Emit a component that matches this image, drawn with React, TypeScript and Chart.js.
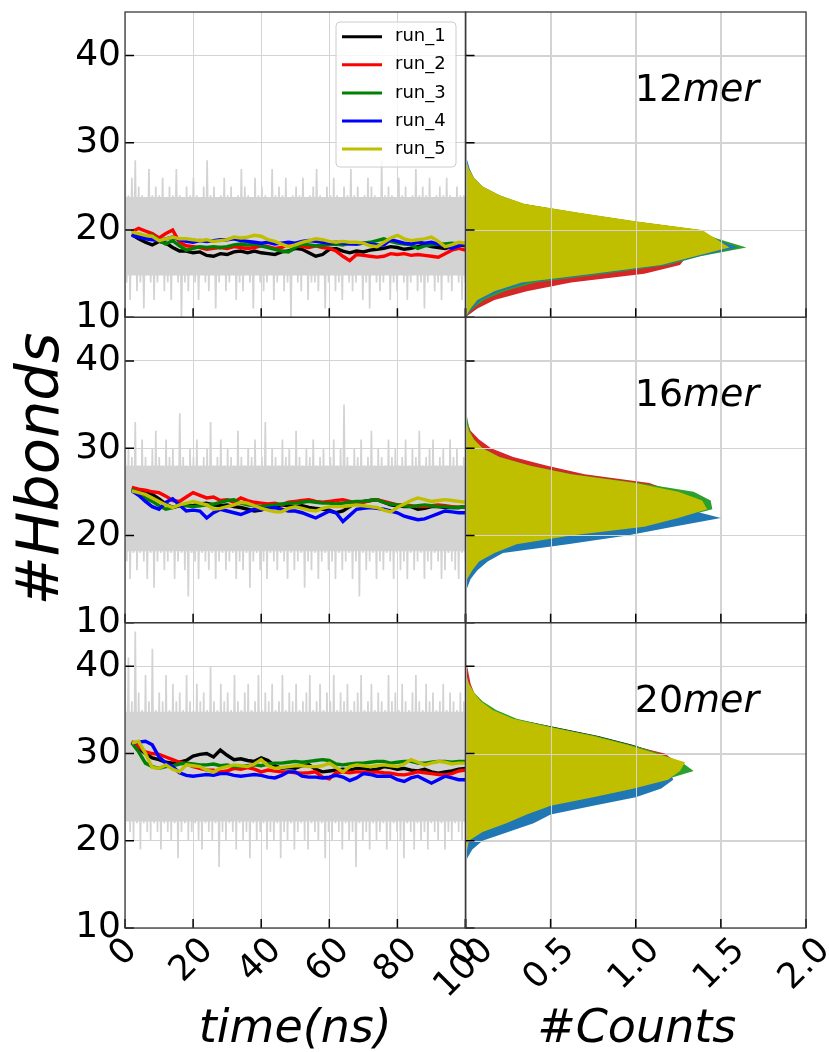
import React, { useEffect, useRef } from 'react';
import { Chart, registerables } from 'chart.js';

Chart.register(...registerables);

// ---------- labels / ticks ----------
const runLabels = ['run_1', 'run_2', 'run_3', 'run_4', 'run_5'];
const lineColors = ['#000000', '#ff0000', '#008000', '#0000ff', '#bfbf00'];
const histColors = ['#000000', '#d62728', '#2ca02c', '#1f77b4', '#bfbf00'];
const panelNames = ['12', '16', '20'];
const timeTicks = [0, 20, 40, 60, 80, 100];
const timeTickLabels = ['0', '20', '40', '60', '80', '100'];
const countTicks = [0, 0.5, 1.0, 1.5, 2.0];
const countTickLabels = ['0', '0.5', '1.0', '1.5', '2.0'];
const hbondTicks = [10, 20, 30, 40];

// ---------- time series (running averages) ----------
const runTime = [2, 4, 6, 8, 10, 12, 14, 16, 18, 20, 22, 24, 26, 28, 30, 32, 34, 36, 38, 40,
  42, 44, 46, 48, 50, 52, 54, 56, 58, 60, 62, 64, 66, 68, 70, 72, 74, 76, 78, 80,
  82, 84, 86, 88, 90, 92, 94, 96, 98, 100];

const run12_1 = [19.5, 19.0, 18.6, 18.3, 18.7, 18.5, 18.0, 17.6, 17.6, 17.4,
  17.5, 17.1, 17.0, 17.3, 17.2, 17.5, 17.6, 17.4, 17.6, 17.4,
  17.3, 17.2, 17.5, 17.6, 17.9, 17.8, 17.4, 17.0, 17.2, 17.8,
  17.9, 17.6, 17.4, 17.6, 17.5, 17.7, 17.8, 17.9, 18.1, 18.0,
  17.8, 17.9, 18.1, 18.3, 18.1, 18.0, 17.9, 18.1, 18.3, 18.2];
const run12_2 = [19.8, 20.2, 19.9, 19.6, 19.1, 19.6, 20.0, 18.6, 18.2, 18.1,
  18.0, 17.8, 17.9, 18.0, 17.9, 18.1, 18.0, 17.9, 18.0, 18.2,
  18.1, 17.9, 18.0, 18.4, 18.3, 18.1, 18.0, 18.2, 18.0, 17.9,
  17.6, 17.0, 16.5, 17.2, 17.1, 17.0, 16.9, 17.0, 17.3, 17.2,
  17.3, 17.1, 17.2, 17.1, 17.0, 16.9, 17.3, 17.7, 17.9, 17.7];
const run12_3 = [19.6, 19.5, 19.3, 19.4, 18.8, 18.4, 18.8, 18.2, 17.7, 17.9,
  18.1, 18.0, 18.1, 18.0, 18.1, 18.3, 18.4, 18.3, 18.4, 18.2,
  18.0, 17.8, 17.6, 17.5, 18.0, 18.4, 18.3, 18.2, 18.25, 18.3,
  18.4, 18.3, 18.5, 18.4, 18.5, 18.6, 18.8, 19.0, 18.7, 18.5,
  18.4, 18.3, 17.9, 18.2, 18.3, 18.4, 18.4, 18.5, 18.4, 18.3];
const run12_4 = [19.4, 19.2, 19.0, 18.9, 18.8, 19.0, 19.2, 18.9, 18.7, 18.6,
  18.8, 18.7, 18.8, 18.9, 18.9, 19.0, 18.8, 18.7, 18.6, 18.5,
  18.6, 18.4, 18.5, 18.6, 18.5, 18.7, 18.8, 18.7, 18.6, 18.5,
  18.6, 18.5, 18.4, 18.4, 18.5, 18.4, 18.3, 18.3, 18.9, 18.7,
  18.5, 18.4, 18.6, 18.5, 18.6, 18.4, 18.2, 17.9, 18.2, 18.5];
const run12_5 = [19.8, 19.6, 19.4, 19.3, 18.8, 19.0, 19.2, 19.0, 19.0, 18.9,
  18.8, 18.9, 18.7, 18.8, 18.9, 19.2, 19.1, 19.2, 19.4, 19.3,
  18.9, 18.7, 18.4, 18.1, 18.3, 18.6, 18.8, 19.0, 18.9, 18.7,
  18.6, 18.7, 18.6, 18.6, 18.5, 18.2, 18.1, 18.6, 19.1, 19.4,
  19.0, 18.8, 18.9, 19.0, 19.2, 18.7, 18.1, 18.3, 18.6, 18.5];

const run16_1 = [25.3, 25.1, 24.9, 24.7, 24.2, 23.6, 23.2, 23.4, 23.5, 23.4,
  23.6, 23.7, 23.5, 23.4, 23.5, 23.3, 23.2, 23.0, 22.8, 22.9,
  23.2, 23.3, 23.5, 23.4, 23.3, 23.4, 23.2, 23.1, 23.0, 22.9,
  22.6, 22.8, 23.3, 23.8, 23.9, 24.0, 24.1, 23.8, 23.5, 23.4,
  23.3, 23.3, 23.0, 23.1, 23.3, 23.3, 23.2, 23.2, 23.2, 23.3];
const run16_2 = [25.5, 25.3, 25.2, 25.0, 24.9, 24.5, 24.0, 23.9, 24.4, 24.9,
  24.6, 24.3, 24.4, 24.0, 24.1, 23.8, 24.3, 24.0, 23.8, 23.7,
  23.6, 23.7, 23.5, 23.8, 23.9, 24.0, 24.1, 23.9, 23.8, 23.9,
  24.0, 24.1, 23.9, 23.7, 23.8, 24.0, 24.1, 23.9, 23.7, 23.5,
  23.5, 23.4, 23.3, 23.3, 23.4, 23.5, 23.4, 23.3, 23.2, 23.3];
const run16_3 = [25.3, 24.8, 24.3, 23.9, 23.4, 23.0, 23.2, 23.5, 23.4, 23.3,
  23.4, 23.5, 23.6, 23.8, 24.0, 24.1, 23.7, 23.5, 23.4, 23.3,
  23.4, 23.5, 23.6, 23.7, 23.7, 23.8, 23.9, 23.8, 23.7, 23.7,
  23.6, 23.7, 23.8, 23.9, 23.9, 24.0, 24.1, 23.8, 23.6, 23.5,
  23.4, 23.3, 23.4, 23.5, 23.4, 23.3, 23.3, 23.2, 23.2, 23.3];
const run16_4 = [25.1, 24.6, 23.9, 23.3, 23.0, 23.8, 24.2, 23.5, 22.8, 22.9,
  22.8, 22.0, 22.6, 23.0, 22.8, 22.6, 22.4, 22.7, 23.0, 23.0,
  23.1, 23.2, 23.0, 22.8, 22.8, 22.6, 22.3, 22.0, 22.4, 22.8,
  22.6, 21.6, 22.3, 23.0, 23.1, 23.2, 23.1, 23.0, 22.8, 22.6,
  22.2, 22.0, 21.8, 21.9, 22.2, 22.5, 22.8, 22.7, 22.6, 22.6];
const run16_5 = [25.1, 24.9, 24.7, 24.3, 23.9, 23.5, 23.2, 23.5, 23.7, 23.9,
  23.7, 23.5, 23.0, 23.1, 23.3, 23.5, 23.8, 23.7, 23.4, 23.1,
  22.9, 22.7, 22.7, 23.1, 23.3, 23.1, 22.9, 22.8, 23.1, 23.3,
  23.3, 23.3, 23.4, 23.5, 23.4, 23.3, 23.2, 22.9, 22.7, 23.2,
  23.6, 24.0, 24.3, 24.1, 23.9, 24.0, 24.1, 24.0, 23.9, 23.8];

const run20_1 = [31.3, 30.6, 30.0, 29.5, 29.3, 29.0, 28.9, 29.0, 29.2, 29.7,
  29.9, 30.0, 29.6, 30.4, 29.8, 29.3, 29.4, 29.2, 29.1, 29.5,
  29.2, 28.6, 28.3, 28.4, 28.3, 28.6, 28.7, 28.2, 27.9, 28.0,
  28.1, 28.2, 28.1, 28.3, 28.3, 28.1, 28.2, 28.5, 28.4, 28.2,
  28.3, 28.1, 28.0, 28.2, 27.9, 27.75, 27.9, 28.0, 28.2, 28.3];
const run20_2 = [31.4, 30.8, 30.2, 30.0, 29.9, 29.6, 29.3, 29.0, 28.8, 28.5,
  28.3, 28.1, 28.1, 27.9, 28.0, 28.3, 28.2, 28.4, 28.2, 27.9,
  28.1, 28.0, 27.9, 27.9, 27.8, 27.75, 27.8, 27.9, 27.3, 27.1,
  27.8, 27.9, 27.8, 27.9, 27.9, 27.8, 27.9, 27.8, 27.75, 27.6,
  27.55, 27.7, 27.9, 27.8, 27.7, 27.6, 27.55, 27.7, 28.0, 28.1];
const run20_3 = [31.2, 30.2, 28.9, 28.5, 28.3, 28.5, 28.6, 28.8, 28.9, 28.8,
  28.7, 28.7, 28.8, 28.6, 28.7, 28.5, 28.5, 28.6, 28.7, 28.6,
  28.8, 28.9, 28.9, 29.0, 29.1, 29.0, 29.1, 29.2, 29.3, 29.2,
  28.8, 28.7, 28.8, 28.9, 28.9, 29.0, 29.1, 29.1, 28.9, 29.0,
  29.1, 29.1, 28.9, 28.9, 29.0, 29.1, 29.1, 29.0, 29.1, 29.1];
const run20_4 = [31.2, 31.3, 31.4, 31.0, 29.6, 28.9, 28.5, 27.8, 27.5, 27.4,
  27.5, 27.6, 27.5, 27.7, 27.7, 27.5, 27.4, 27.5, 27.6, 27.5,
  27.3, 27.2, 27.5, 27.9, 27.9, 27.4, 27.3, 27.3, 27.2, 27.3,
  27.5, 27.3, 26.9, 27.2, 27.7, 27.6, 27.4, 27.4, 27.4, 27.0,
  26.8, 27.2, 27.4, 27.0, 26.6, 27.0, 27.4, 27.2, 27.0, 27.0];
const run20_5 = [31.2, 31.4, 30.0, 28.4, 28.3, 28.7, 28.2, 27.9, 28.7, 28.6,
  28.5, 28.1, 27.9, 28.3, 28.5, 28.7, 28.6, 28.5, 28.8, 29.3,
  28.6, 28.3, 28.4, 28.5, 28.6, 28.6, 28.5, 28.5, 28.6, 28.9,
  28.4, 27.9, 28.5, 28.7, 28.6, 28.5, 28.6, 28.7, 28.6, 28.5,
  28.8, 29.3, 29.0, 28.7, 28.9, 29.1, 29.0, 28.8, 28.9, 28.9];

// ---------- raw H-bond counts (grey): alternating highs and lows, plus the dense core band ----------
const grayHi12 = [27, 24, 26, 28, 25, 24, 23, 27, 24, 25, 24, 26, 23, 25, 24, 27, 24, 23, 25, 24,
  26, 24, 23, 25, 28, 24, 25, 23, 24, 26, 24, 25, 23, 24, 27, 25, 24, 23, 26, 24,
  25, 24, 23, 27, 24, 25, 24, 26, 23, 24, 25, 24, 26, 23, 24, 25, 27, 24, 23, 25,
  24, 26, 24, 23, 25, 24, 27, 24, 25, 23, 24, 26, 25, 24, 23, 28, 24, 25, 24, 23,
  26, 24, 25, 23, 24, 27, 24, 25, 24, 26, 23, 24, 25, 24, 26, 24, 23, 25, 24, 24];
const grayLo12 = [14, 12, 15, 13, 14, 11, 15, 14, 12, 14, 15, 13, 14, 12, 15, 14, 10, 14, 13, 15,
  14, 12, 15, 14, 13, 15, 11, 14, 15, 13, 14, 15, 12, 14, 13, 15, 14, 11, 15, 14,
  13, 14, 15, 12, 14, 15, 13, 14, 10, 15, 14, 13, 15, 12, 14, 14, 13, 15, 11, 14,
  15, 13, 14, 12, 15, 14, 13, 14, 15, 12, 14, 11, 15, 14, 13, 14, 15, 12, 14, 13,
  15, 14, 12, 14, 15, 13, 14, 11, 14, 15, 13, 14, 12, 15, 14, 13, 15, 14, 12, 14];
const grayHi16 = [32, 30, 29, 33, 28, 31, 29, 28, 30, 32, 29, 28, 31, 29, 30, 28, 34, 29, 28, 30,
  29, 31, 28, 29, 30, 33, 28, 29, 31, 28, 30, 29, 28, 32, 29, 28, 30, 29, 31, 28,
  29, 33, 28, 30, 29, 28, 31, 29, 30, 28, 32, 29, 28, 30, 29, 31, 28, 29, 30, 28,
  29, 31, 28, 30, 35, 29, 28, 30, 29, 31, 28, 29, 32, 28, 30, 29, 28, 31, 29, 30,
  28, 29, 31, 28, 30, 29, 32, 28, 29, 30, 31, 28, 29, 30, 28, 31, 29, 30, 28, 29];
const grayLo16 = [17, 15, 18, 16, 18, 17, 15, 18, 14, 17, 18, 16, 17, 18, 15, 17, 18, 16, 13, 18,
  17, 15, 18, 17, 16, 18, 15, 17, 18, 16, 17, 18, 15, 17, 16, 18, 14, 17, 18, 16,
  17, 15, 18, 17, 16, 18, 17, 15, 18, 16, 17, 18, 14, 17, 16, 18, 15, 17, 18, 16,
  17, 15, 18, 16, 17, 18, 15, 17, 13, 18, 16, 17, 18, 15, 17, 16, 18, 17, 15, 18,
  16, 17, 15, 18, 16, 17, 18, 15, 17, 16, 18, 17, 15, 16, 18, 17, 16, 15, 18, 17];
const grayHi20 = [38, 41, 36, 44, 37, 35, 39, 36, 42, 35, 37, 36, 39, 35, 38, 36, 37, 35, 39, 36,
  35, 38, 36, 37, 35, 40, 36, 35, 38, 36, 37, 35, 39, 36, 35, 37, 38, 35, 36, 39,
  35, 37, 36, 38, 35, 36, 39, 35, 37, 36, 38, 35, 36, 37, 39, 35, 36, 38, 35, 37,
  36, 39, 35, 37, 36, 38, 35, 36, 37, 39, 35, 36, 38, 35, 37, 36, 35, 39, 36, 37,
  35, 38, 36, 35, 37, 39, 36, 35, 38, 36, 37, 35, 36, 38, 35, 37, 36, 35, 37, 36];
const grayLo20 = [23, 21, 20, 22, 19, 22, 21, 20, 22, 21, 19, 22, 21, 20, 22, 18, 21, 22, 20, 21,
  22, 20, 19, 22, 21, 20, 22, 17, 21, 20, 22, 21, 19, 22, 20, 21, 18, 22, 20, 21,
  22, 19, 21, 20, 22, 18, 21, 20, 22, 19, 21, 22, 20, 19, 22, 21, 20, 22, 18, 21,
  20, 22, 21, 19, 22, 20, 21, 17, 22, 20, 21, 19, 22, 20, 21, 22, 19, 20, 22, 21,
  20, 18, 22, 21, 19, 22, 20, 21, 19, 22, 21, 20, 22, 19, 21, 20, 22, 21, 20, 22];
const grayCore12 = [14.8, 23.8];
const grayCore16 = [18.2, 28.0];
const grayCore20 = [22.2, 34.8];
const grayTimeSpan = [0, 100];

// ---------- histograms (density per H-bond value) ----------
const histY12 = [10, 11, 12, 13, 14, 15, 16, 17, 18, 19, 20, 21, 22, 23, 24, 25, 26, 27, 28, 29];
const hist12_1 = [0, 0.03, 0.07, 0.17, 0.33, 0.74, 1.14, 1.34, 1.5, 1.45, 1.37, 0.98, 0.65, 0.34, 0.19, 0.09, 0.04, 0.02, 0, 0];
const hist12_2 = [0, 0.07, 0.17, 0.36, 0.62, 1.05, 1.26, 1.3, 1.5, 1.4, 1.3, 0.9, 0.6, 0.3, 0.17, 0.08, 0.04, 0.01, 0, 0];
const hist12_3 = [0, 0.045, 0.11, 0.23, 0.41, 0.82, 1.19, 1.38, 1.65, 1.48, 1.35, 0.95, 0.62, 0.33, 0.18, 0.09, 0.04, 0.015, 0, 0];
const hist12_4 = [0, 0.04, 0.09, 0.2, 0.37, 0.79, 1.17, 1.37, 1.6, 1.46, 1.37, 0.98, 0.65, 0.34, 0.2, 0.1, 0.05, 0.025, 0.01, 0];
const hist12_5 = [0, 0.03, 0.07, 0.17, 0.33, 0.75, 1.15, 1.35, 1.55, 1.47, 1.39, 1.0, 0.67, 0.35, 0.2, 0.1, 0.05, 0.02, 0.005, 0];

const histY16 = [13, 14, 15, 16, 17, 18, 19, 20, 21, 22, 23, 24, 25, 26, 27, 28, 29, 30, 31, 32, 33, 34, 35];
const hist16_1 = [0, 0.005, 0.01, 0.03, 0.08, 0.17, 0.32, 0.65, 1.03, 1.25, 1.38, 1.32, 1.2, 0.98, 0.6, 0.36, 0.19, 0.09, 0.04, 0.015, 0, 0, 0];
const hist16_2 = [0, 0, 0.01, 0.03, 0.07, 0.15, 0.28, 0.58, 0.98, 1.18, 1.3, 1.28, 1.22, 1.08, 0.7, 0.48, 0.28, 0.15, 0.08, 0.03, 0.01, 0, 0];
const hist16_3 = [0, 0, 0.01, 0.04, 0.08, 0.17, 0.3, 0.62, 1.03, 1.25, 1.45, 1.44, 1.34, 1.02, 0.63, 0.38, 0.2, 0.1, 0.05, 0.025, 0.015, 0.005, 0];
const hist16_4 = [0, 0.01, 0.03, 0.07, 0.13, 0.22, 0.6, 0.95, 1.22, 1.5, 1.3, 1.12, 0.95, 0.72, 0.45, 0.26, 0.13, 0.06, 0.02, 0.005, 0, 0, 0];
const hist16_5 = [0, 0.005, 0.01, 0.04, 0.08, 0.17, 0.3, 0.62, 1.05, 1.25, 1.42, 1.39, 1.25, 1.0, 0.62, 0.38, 0.2, 0.1, 0.05, 0.02, 0.005, 0, 0];

const histY20 = [17, 18, 19, 20, 21, 22, 23, 24, 25, 26, 27, 28, 29, 30, 31, 32, 33, 34, 35, 36, 37, 38, 39, 40, 41];
const hist20_1 = [0, 0, 0.005, 0.02, 0.08, 0.2, 0.34, 0.47, 0.72, 0.95, 1.15, 1.22, 1.22, 1.14, 0.98, 0.78, 0.53, 0.28, 0.16, 0.09, 0.04, 0.01, 0, 0, 0];
const hist20_2 = [0, 0, 0.005, 0.02, 0.08, 0.2, 0.34, 0.48, 0.73, 0.96, 1.16, 1.25, 1.24, 1.17, 0.96, 0.76, 0.5, 0.27, 0.15, 0.09, 0.05, 0.03, 0.02, 0.01, 0];
const hist20_3 = [0, 0, 0.005, 0.02, 0.09, 0.21, 0.35, 0.48, 0.73, 0.96, 1.17, 1.34, 1.27, 1.14, 0.97, 0.77, 0.52, 0.3, 0.18, 0.1, 0.05, 0.02, 0.005, 0, 0];
const hist20_4 = [0, 0.01, 0.04, 0.1, 0.25, 0.4, 0.5, 0.75, 1.0, 1.15, 1.22, 1.2, 1.12, 1.0, 0.8, 0.6, 0.4, 0.22, 0.12, 0.07, 0.03, 0.01, 0, 0, 0];
const hist20_5 = [0, 0.005, 0.01, 0.02, 0.1, 0.24, 0.36, 0.5, 0.75, 0.99, 1.19, 1.26, 1.29, 1.12, 0.95, 0.75, 0.5, 0.28, 0.16, 0.09, 0.05, 0.02, 0.005, 0, 0];

const rows = [
  { yID: 'y12', grayHi: grayHi12, grayLo: grayLo12, core: grayCore12, runs: [run12_1, run12_2, run12_3, run12_4, run12_5], bins: histY12, hists: [hist12_1, hist12_2, hist12_3, hist12_4, hist12_5] },
  { yID: 'y16', grayHi: grayHi16, grayLo: grayLo16, core: grayCore16, runs: [run16_1, run16_2, run16_3, run16_4, run16_5], bins: histY16, hists: [hist16_1, hist16_2, hist16_3, hist16_4, hist16_5] },
  { yID: 'y20', grayHi: grayHi20, grayLo: grayLo20, core: grayCore20, runs: [run20_1, run20_2, run20_3, run20_4, run20_5], bins: histY20, hists: [hist20_1, hist20_2, hist20_3, hist20_4, hist20_5] },
];

const W = 829;
const H = 1052;
const FONT = '"DejaVu Sans", sans-serif';
const gridColor = '#d3d3d3';
const rawColor = '#d3d3d3';
const spineColor = '#3a3a3a';

function drawRotLabel(ctx: CanvasRenderingContext2D, text: string, x: number, yTop: number, F: number) {
  ctx.font = `${F}px ${FONT}`;
  const w = ctx.measureText(text).width;
  const h = 0.73 * F;
  const half = ((w + h) * Math.SQRT1_2) / 2;
  ctx.save();
  ctx.translate(x, yTop + half);
  ctx.rotate(-Math.PI / 4);
  ctx.textAlign = 'center';
  ctx.textBaseline = 'middle';
  ctx.fillText(text, 0, 0);
  ctx.restore();
}

const decorPlugin = {
  id: 'decor',
  afterDatasetsDraw(chart: any) {
    const ctx: CanvasRenderingContext2D = chart.ctx;
    const xC = chart.scales.xC;
    ctx.save();
    ctx.strokeStyle = gridColor;
    ctx.lineWidth = 1;
    rows.forEach((row) => {
      const ys = chart.scales[row.yID];
      ctx.save();
      ctx.beginPath();
      ctx.rect(xC.left, ys.top, xC.width, ys.height);
      ctx.clip();
      ctx.beginPath();
      countTicks.forEach((v) => {
        const px = Math.round(xC.getPixelForValue(v)) + 0.5;
        ctx.moveTo(px, ys.top);
        ctx.lineTo(px, ys.bottom);
      });
      hbondTicks.forEach((v) => {
        const py = Math.round(ys.getPixelForValue(v)) + 0.5;
        ctx.moveTo(xC.left, py);
        ctx.lineTo(xC.right, py);
      });
      ctx.stroke();
      ctx.restore();
    });
    ctx.restore();
  },
  afterDraw(chart: any) {
    const ctx: CanvasRenderingContext2D = chart.ctx;
    const xT = chart.scales.xT;
    const xC = chart.scales.xC;
    const cols = [
      { s: xT, ticks: timeTicks, labels: timeTickLabels },
      { s: xC, ticks: countTicks, labels: countTickLabels },
    ];
    ctx.save();
    rows.forEach((row, r) => {
      const ys = chart.scales[row.yID];
      cols.forEach((col) => {
        const xs = col.s;
        ctx.strokeStyle = '#000';
        ctx.lineWidth = 1.5;
        ctx.beginPath();
        col.ticks.forEach((v) => {
          const px = xs.getPixelForValue(v);
          ctx.moveTo(px, ys.bottom);
          ctx.lineTo(px, ys.bottom - 9);
        });
        hbondTicks.forEach((v) => {
          const py = ys.getPixelForValue(v);
          ctx.moveTo(xs.left, py);
          ctx.lineTo(xs.left + 9, py);
        });
        ctx.stroke();
        ctx.strokeStyle = spineColor;
        ctx.lineWidth = 1.3;
        ctx.strokeRect(xs.left, ys.top, xs.width, ys.height);
      });
      ctx.fillStyle = '#000';
      ctx.font = `36px ${FONT}`;
      ctx.textAlign = 'right';
      ctx.textBaseline = 'middle';
      hbondTicks.forEach((v) => {
        ctx.fillText(String(v), xT.left - 4, ys.getPixelForValue(v));
      });
      const lx = xC.getPixelForValue(1.0) - 1;
      const ly = ys.getPixelForValue(34.8);
      ctx.textAlign = 'left';
      ctx.textBaseline = 'alphabetic';
      ctx.font = `38px ${FONT}`;
      ctx.fillText(panelNames[r], lx, ly);
      const w = ctx.measureText(panelNames[r]).width;
      ctx.font = `italic 38px ${FONT}`;
      ctx.fillText('mer', lx + w, ly);
    });
    const bottom = chart.scales[rows[rows.length - 1].yID].bottom;
    ctx.fillStyle = '#000';
    cols.forEach((col) => {
      col.ticks.forEach((v, i) => {
        drawRotLabel(ctx, col.labels[i], col.s.getPixelForValue(v) - 1, bottom + 8, 35);
      });
    });
    // legend
    const top = chart.scales.y12;
    const bx = xT.right - 129.5;
    const by = top.top + 10;
    const bw = 120;
    const bh = 145;
    ctx.fillStyle = 'rgba(255,255,255,0.8)';
    ctx.strokeStyle = '#cccccc';
    ctx.lineWidth = 1;
    ctx.beginPath();
    (ctx as any).roundRect(bx, by, bw, bh, 4);
    ctx.fill();
    ctx.stroke();
    runLabels.forEach((lab, i) => {
      const cy = by + 14.7 + i * 28.1;
      ctx.strokeStyle = lineColors[i];
      ctx.lineWidth = 3;
      ctx.beginPath();
      ctx.moveTo(bx + 6, cy);
      ctx.lineTo(bx + 46, cy);
      ctx.stroke();
      ctx.fillStyle = '#000';
      ctx.font = `18px ${FONT}`;
      ctx.textAlign = 'left';
      ctx.textBaseline = 'middle';
      ctx.fillText(lab, bx + 59, cy);
    });
    // axis titles
    ctx.fillStyle = '#000';
    ctx.font = `italic 46px ${FONT}`;
    ctx.textAlign = 'center';
    ctx.textBaseline = 'alphabetic';
    ctx.fillText('time(ns)', (xT.left + xT.right) / 2, 1042);
    ctx.fillText('#Counts', (xC.left + xC.right) / 2 + 1, 1042);
    ctx.save();
    ctx.font = `italic 59px ${FONT}`;
    ctx.translate(58, (top.top + bottom) / 2 - 1);
    ctx.rotate(-Math.PI / 2);
    ctx.fillText('#Hbonds', 0, 0);
    ctx.restore();
    ctx.restore();
  },
};

function yScale() {
  return {
    type: 'linear',
    position: 'left',
    stack: 'rows',
    stackWeight: 1,
    min: 10,
    max: 45,
    afterBuildTicks: (s: any) => {
      s.ticks = hbondTicks.map((v) => ({ value: v }));
    },
    afterFit: (s: any) => {
      s.width = 0;
    },
    ticks: { display: false },
    grid: { color: gridColor, lineWidth: 1, drawTicks: false },
    border: { display: false },
  };
}

function xScale(min: number, max: number, ticks: number[]) {
  return {
    type: 'linear',
    position: 'bottom',
    stack: 'cols',
    stackWeight: 1,
    min,
    max,
    afterBuildTicks: (s: any) => {
      s.ticks = ticks.map((v) => ({ value: v }));
    },
    afterFit: (s: any) => {
      s.height = 0;
    },
    ticks: { display: false },
    grid: { color: gridColor, lineWidth: 1, drawTicks: false },
    border: { display: false },
  };
}

export default function App() {
  const ref = useRef<HTMLCanvasElement>(null);
  useEffect(() => {
    const canvas = ref.current;
    if (!canvas) return;
    const datasets: any[] = [];
    rows.forEach((row) => {
      datasets.push({
        label: 'raw core top',
        data: grayTimeSpan.map((t) => ({ x: t, y: row.core[1] })),
        xAxisID: 'xT',
        yAxisID: row.yID,
        borderColor: 'rgba(0,0,0,0)',
        borderWidth: 1,
        pointRadius: 0,
        fill: false,
      });
      datasets.push({
        label: 'raw core bottom',
        data: grayTimeSpan.map((t) => ({ x: t, y: row.core[0] })),
        xAxisID: 'xT',
        yAxisID: row.yID,
        borderColor: 'rgba(0,0,0,0)',
        borderWidth: 1,
        backgroundColor: rawColor,
        pointRadius: 0,
        fill: '-1',
      });
      const grayVals: number[] = [];
      row.grayHi.forEach((hi, i) => {
        grayVals.push(hi, row.grayLo[i]);
      });
      const n = grayVals.length;
      datasets.push({
        label: 'raw',
        data: grayVals.map((v, k) => ({ x: (k * 100) / (n - 1), y: v })),
        xAxisID: 'xT',
        yAxisID: row.yID,
        borderColor: rawColor,
        borderWidth: 1.7,
        pointRadius: 0,
        fill: false,
      });
      row.runs.forEach((vals, i) => {
        datasets.push({
          label: runLabels[i],
          data: vals.map((v, k) => ({ x: runTime[k], y: v })),
          xAxisID: 'xT',
          yAxisID: row.yID,
          borderColor: lineColors[i],
          borderWidth: 3.4,
          pointRadius: 0,
          fill: false,
        });
      });
      row.hists.forEach((vals, i) => {
        datasets.push({
          label: runLabels[i] + ' hist',
          data: vals.map((v, k) => ({ x: v, y: row.bins[k] })),
          xAxisID: 'xC',
          yAxisID: row.yID,
          borderColor: 'rgba(0,0,0,0)',
          borderWidth: 1,
          backgroundColor: histColors[i],
          pointRadius: 0,
          fill: 'shape',
        });
      });
    });
    datasets.forEach((d, k) => {
      d.order = -k;
    });
    const chart = new Chart(canvas, {
      type: 'line',
      data: { datasets },
      options: {
        responsive: false,
        animation: false,
        devicePixelRatio: 1,
        events: [],
        layout: { padding: { left: 125, right: 23, top: 12, bottom: 124 } },
        plugins: { legend: { display: false }, tooltip: { enabled: false }, title: { display: false } },
        scales: {
          xT: xScale(0, 100, timeTicks),
          xC: xScale(0, 2, countTicks),
          y20: yScale(),
          y16: yScale(),
          y12: yScale(),
        } as any,
      },
      plugins: [decorPlugin],
    } as any);
    return () => chart.destroy();
  }, []);
  return (
    <div style={{ position: 'absolute', left: 0, top: 0, width: W, height: H, background: '#fff' }}>
      <canvas ref={ref} width={W} height={H} style={{ display: 'block', width: W, height: H }} />
    </div>
  );
}
